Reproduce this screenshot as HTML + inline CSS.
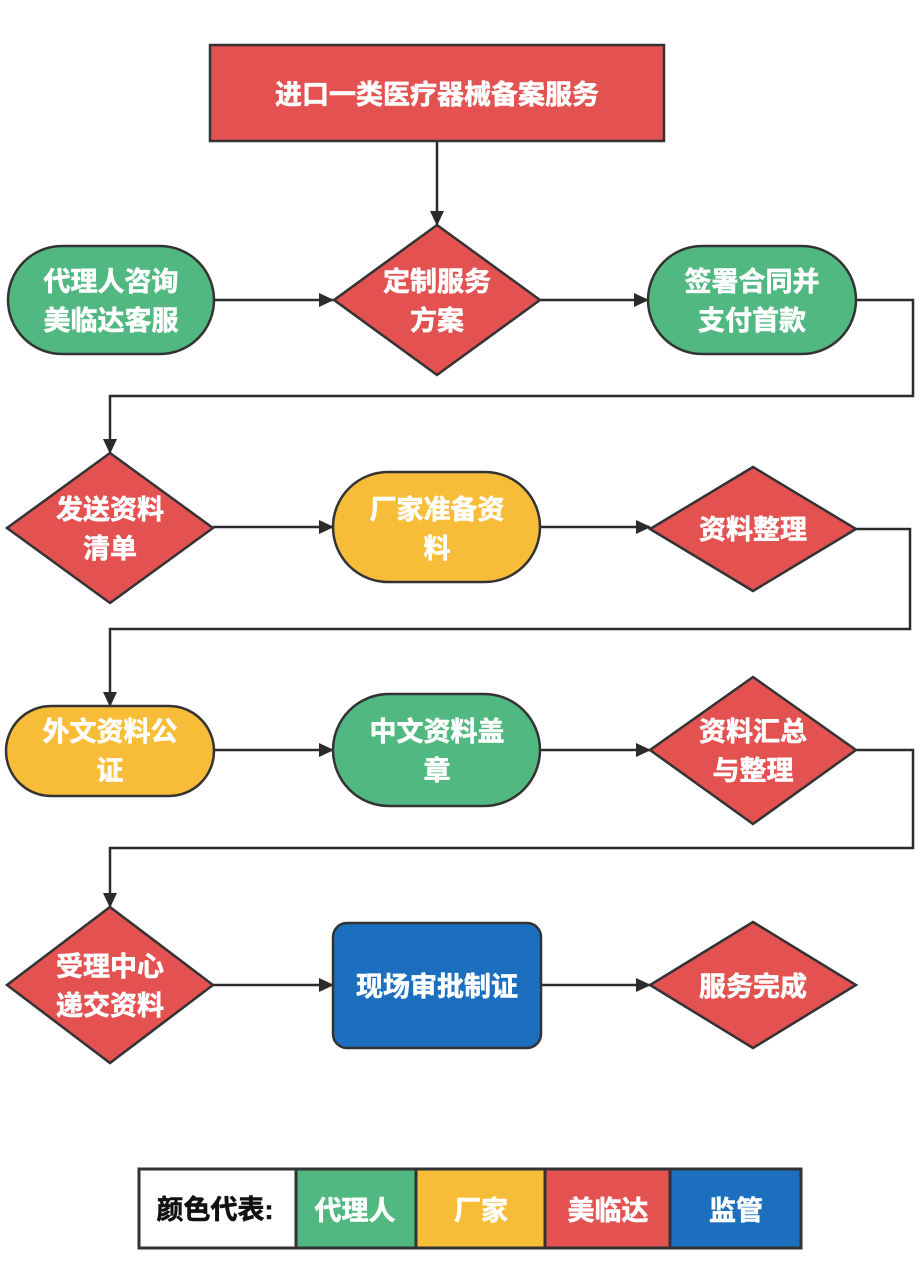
<!DOCTYPE html>
<html><head><meta charset="utf-8"><style>
html,body{margin:0;padding:0;background:#fff;}
svg{display:block}
text{font-family:"Liberation Sans","Noto Sans CJK SC","WenQuanYi Zen Hei",sans-serif;font-weight:bold;fill:#fff;stroke:#fff;stroke-width:0.6;font-size:27px;text-anchor:middle;dominant-baseline:central}
</style></head><body>
<svg width="923" height="1269" viewBox="0 0 923 1269" xmlns="http://www.w3.org/2000/svg">
<defs>
<marker id="a" markerWidth="16" markerHeight="16" refX="14" refY="8" orient="auto" markerUnits="userSpaceOnUse">
<path d="M0,1 L15,8 L0,15 Z" fill="#2b2b2b"/>
</marker>
</defs>
<g stroke="#2b2b2b" stroke-width="2.5" fill="none">
<line x1="437" y1="141" x2="437" y2="225" marker-end="url(#a)"/>
<line x1="214" y1="300" x2="333" y2="300" marker-end="url(#a)"/>
<line x1="540" y1="300" x2="648" y2="300" marker-end="url(#a)"/>
<polyline points="856,300 913,300 913,396 110,396 110,453" marker-end="url(#a)"/>
<line x1="213" y1="527" x2="333" y2="527" marker-end="url(#a)"/>
<line x1="540" y1="527" x2="650" y2="527" marker-end="url(#a)"/>
<polyline points="856,529 910,529 910,629 110,629 110,706" marker-end="url(#a)"/>
<line x1="214" y1="750" x2="333" y2="750" marker-end="url(#a)"/>
<line x1="540" y1="750" x2="650" y2="750" marker-end="url(#a)"/>
<polyline points="856,750 913,750 913,848 110,848 110,907" marker-end="url(#a)"/>
<line x1="213" y1="985" x2="333" y2="985" marker-end="url(#a)"/>
<line x1="541" y1="985" x2="650" y2="985" marker-end="url(#a)"/>
</g>
<g stroke="#333" stroke-width="2.5">
<rect x="210" y="45" width="454" height="96" fill="#e35151"/>
<rect x="8" y="246" width="206" height="108" rx="54" fill="#52b882"/>
<polygon points="437,225 540,300 437,375 334,300" fill="#e35151"/>
<rect x="648" y="246" width="208" height="108" rx="54" fill="#52b882"/>
<polygon points="110,453 213,528 110,603 7,528" fill="#e35151"/>
<rect x="333" y="472" width="207" height="110" rx="55" fill="#f8bd38"/>
<polygon points="753,467 856,529 753,591 650,529" fill="#e35151"/>
<rect x="6" y="706" width="208" height="90" rx="45" fill="#f8bd38"/>
<rect x="333" y="694" width="207" height="112" rx="56" fill="#52b882"/>
<polygon points="753,677 856,750 753,824 650,750" fill="#e35151"/>
<polygon points="110,907 213,985 110,1063 7,985" fill="#e35151"/>
<rect x="333" y="923" width="208" height="125" rx="14" fill="#1c6fbe"/>
<polygon points="753,922 856,985 753,1048 650,985" fill="#e35151"/>
</g>
<text x="437" y="95">进口一类医疗器械备案服务</text>
<text x="111" y="282">代理人咨询</text><text x="111" y="321">美临达客服</text>
<text x="437" y="282">定制服务</text><text x="437" y="321">方案</text>
<text x="752" y="282">签署合同并</text><text x="752" y="321">支付首款</text>
<text x="110" y="510">发送资料</text><text x="110" y="549">清单</text>
<text x="437" y="510">厂家准备资</text><text x="437" y="549">料</text>
<text x="753" y="530">资料整理</text>
<text x="110" y="732">外文资料公</text><text x="110" y="771">证</text>
<text x="437" y="732">中文资料盖</text><text x="437" y="771">章</text>
<text x="753" y="732">资料汇总</text><text x="753" y="771">与整理</text>
<text x="110" y="967">受理中心</text><text x="110" y="1006">递交资料</text>
<text x="437" y="987">现场审批制证</text>
<text x="753" y="987">服务完成</text>
<g stroke="#333" stroke-width="3">
<rect x="139" y="1169" width="157" height="79" fill="#fff"/>
<rect x="296" y="1169" width="120" height="79" fill="#52b882"/>
<rect x="416" y="1169" width="129" height="79" fill="#f8bd38"/>
<rect x="545" y="1169" width="125" height="79" fill="#e35151"/>
<rect x="670" y="1169" width="131" height="79" fill="#1c6fbe"/>
</g>
<text x="215" y="1210" style="fill:#111;stroke:#111">颜色代表:</text>
<text x="355" y="1211">代理人</text>
<text x="481" y="1211">厂家</text>
<text x="608" y="1211">美临达</text>
<text x="736" y="1211">监管</text>
</svg>
</body></html>
